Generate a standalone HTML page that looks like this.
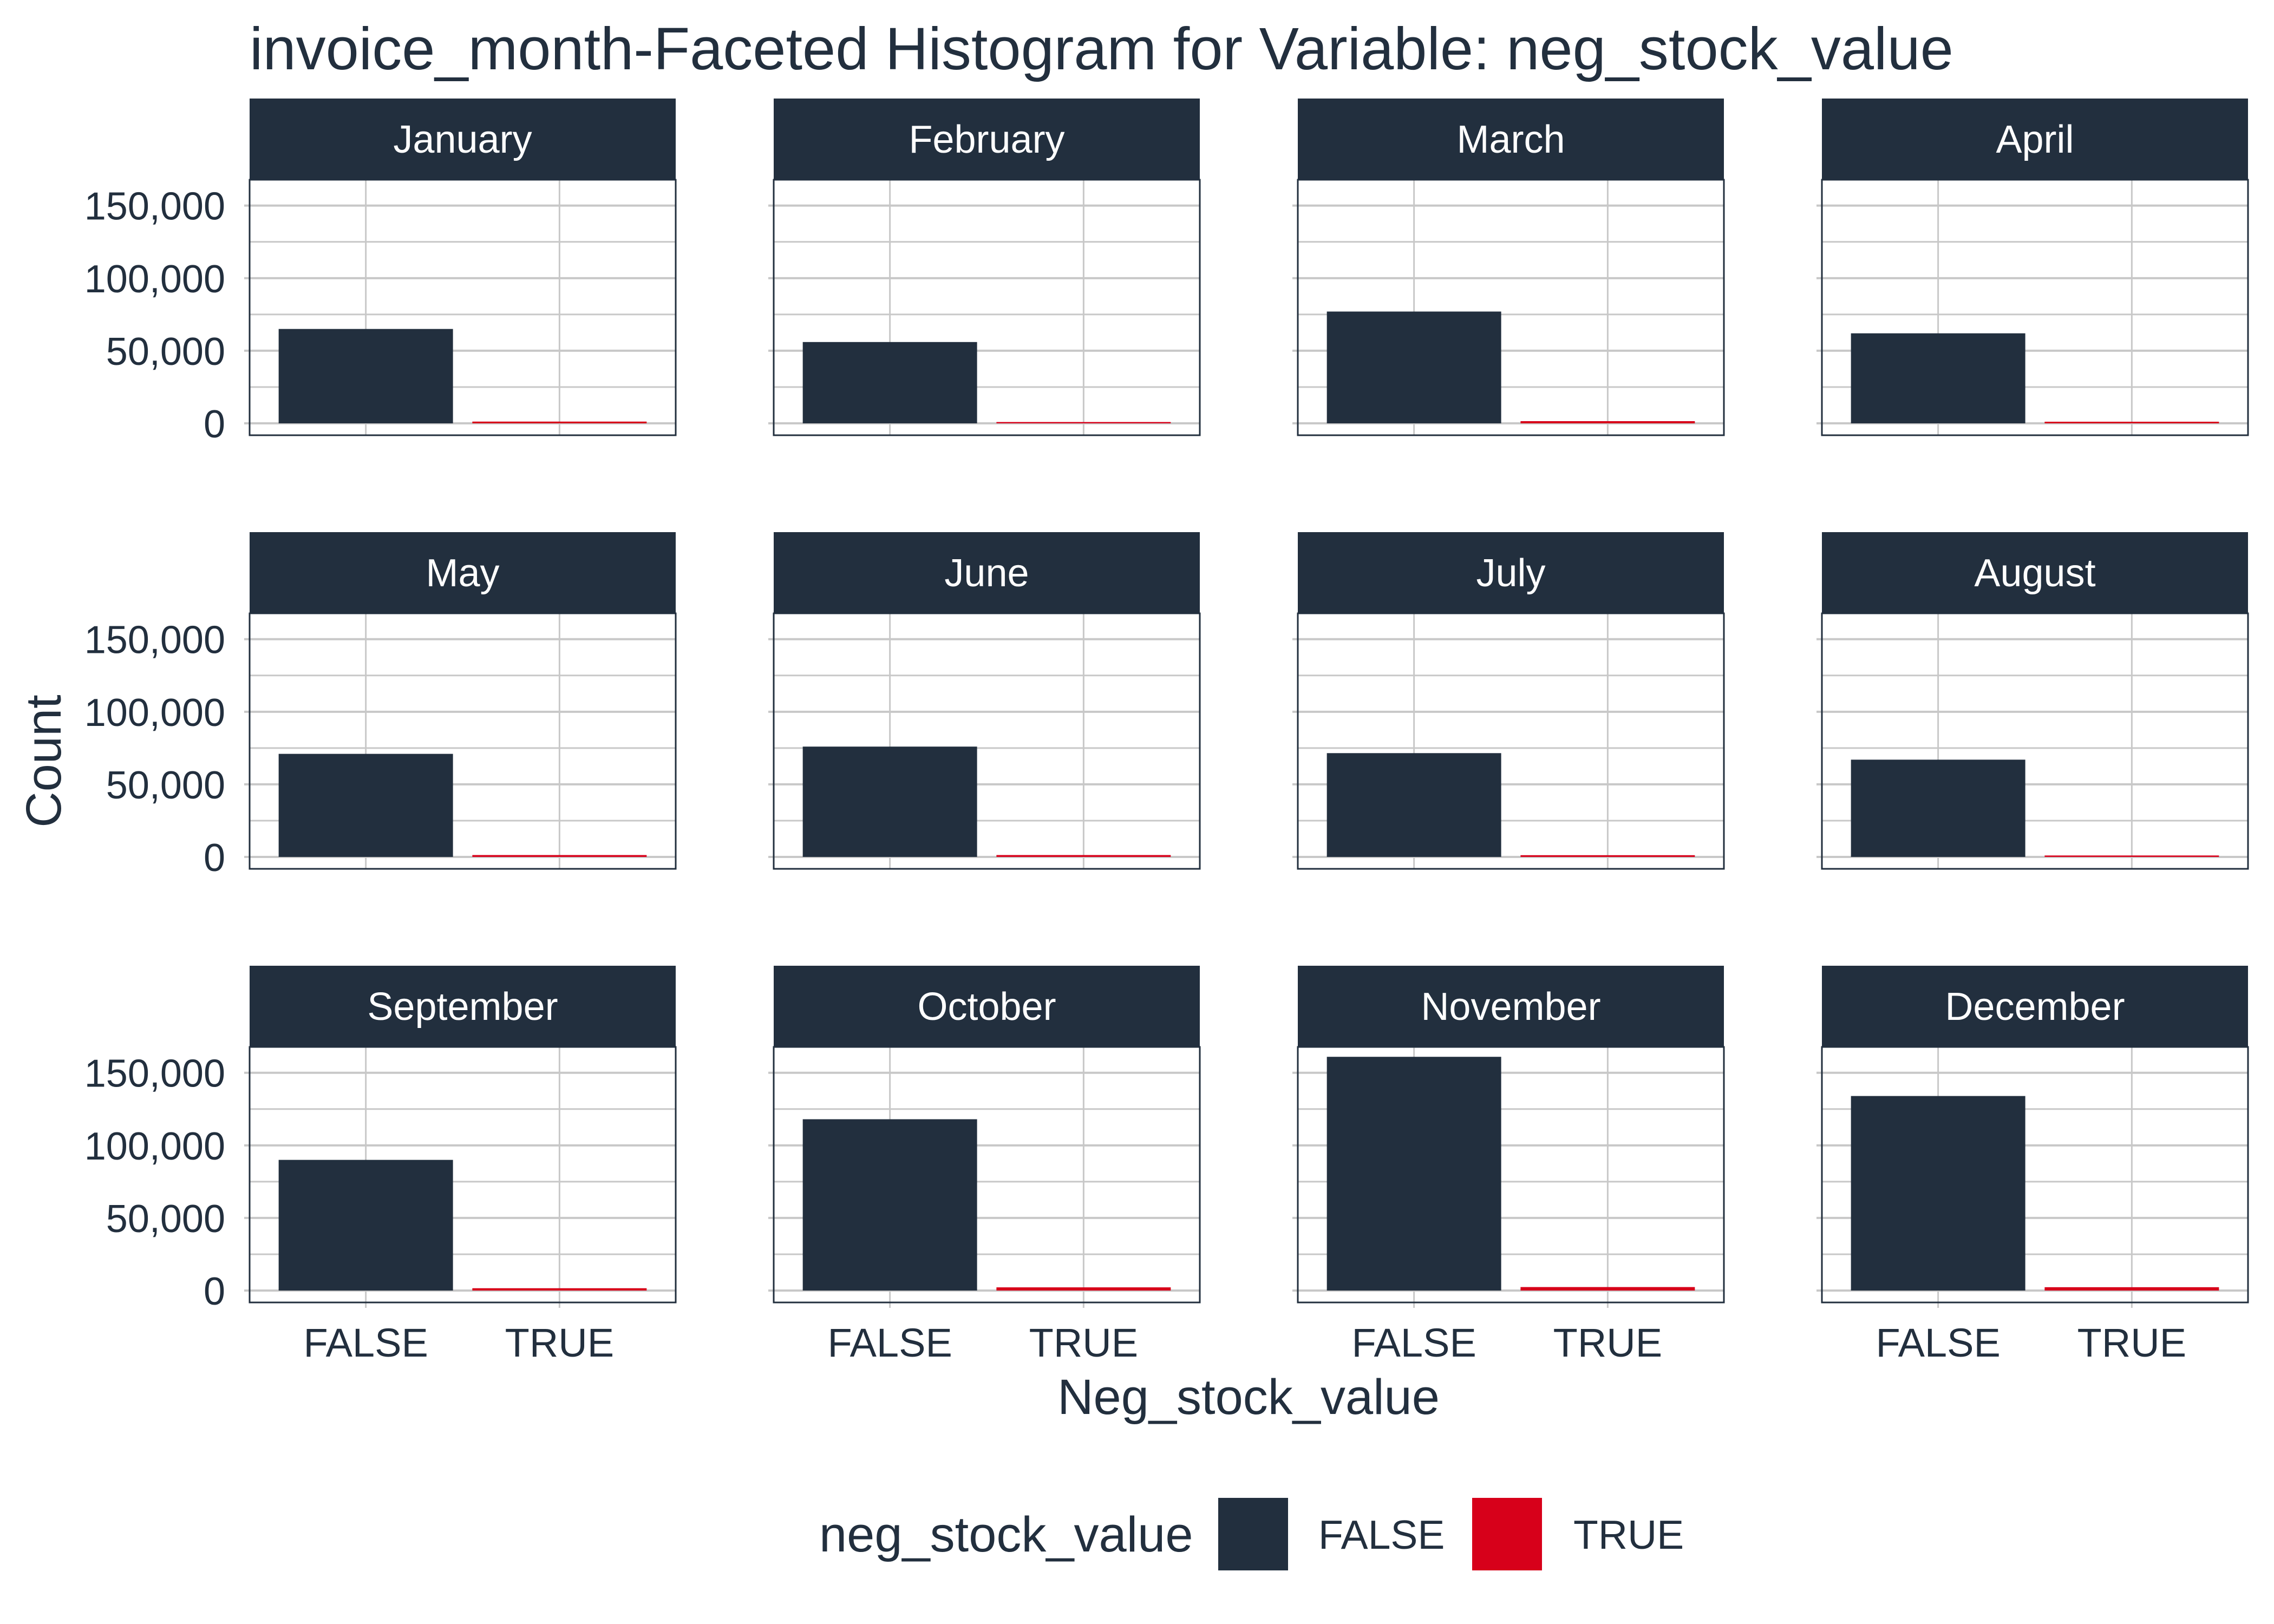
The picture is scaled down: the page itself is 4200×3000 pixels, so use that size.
<!DOCTYPE html>
<html><head><meta charset="utf-8">
<style>
html,body{margin:0;padding:0;background:#fff;}
svg{display:block;font-family:"Liberation Sans",Arial,sans-serif;}
</style></head>
<body>
<svg id="chart" width="4200" height="3000" viewBox="0 0 4200 3000" xmlns="http://www.w3.org/2000/svg">
<rect width="4200" height="3000" fill="#fff"/>
<text x="461" y="128" font-size="110" fill="#222f3e">invoice_month-Faceted Histogram for Variable: neg_stock_value</text>
<text x="0" y="0" font-size="92" fill="#222f3e" text-anchor="middle" transform="translate(112,1406) rotate(-90)">Count</text>
<text x="2306" y="2612" font-size="92" fill="#222f3e" text-anchor="middle">Neg_stock_value</text>
<g>
<text x="1513" y="2866" font-size="92" fill="#222f3e">neg_stock_value</text>
<rect x="2250" y="2767" width="129" height="134" fill="#222f3e"/>
<text x="2435" y="2861" font-size="75" fill="#222f3e">FALSE</text>
<rect x="2719" y="2767" width="129" height="134" fill="#d7001a"/>
<text x="2906" y="2861" font-size="75" fill="#222f3e">TRUE</text>
</g>
<g id="panels"></g>
</svg>
<script>
const months = ["January","February","March","April","May","June","July","August","September","October","November","December"];
const falseCounts = [65000,56000,77000,62000,71000,76000,71500,67000,90000,118000,161000,134000];
const trueCounts = [1200,900,1500,1100,1300,1300,1200,1000,1600,2200,2400,2300];
const categories = ["FALSE","TRUE"];
const yTicks = [0,50000,100000,150000];
const yTickLabels = ["0","50,000","100,000","150,000"];

const NS="http://www.w3.org/2000/svg";
const root=document.getElementById('panels');
const colX0=461, colStep=968, pw=787;
const rowY0=182, rowStep=801, stripH=150, ph=472;
const yMin=-8200, yMax=167800;
const dark="#222f3e", red="#d7001a", grid="#c8c8c8";
function mk(tag,attrs,parent){const e=document.createElementNS(NS,tag);for(const k in attrs)e.setAttribute(k,attrs[k]);parent.appendChild(e);return e;}
months.forEach((m,i)=>{
  const c=i%4, r=Math.floor(i/4);
  const px=colX0+c*colStep, sy=rowY0+r*rowStep, py=sy+stripH;
  const ys=v=>py+ph-(v-yMin)/(yMax-yMin)*ph;
  const xc=k=>px+((k+1)-0.4)/2.2*pw;
  const g=mk('g',{},root);
  
  
  const strip=mk('rect',{x:px,y:sy,width:pw,height:stripH,fill:dark},g);
  
  
  const st=mk('text',{x:px+pw/2,y:sy+stripH/2+25,'font-size':72,fill:'#fff','text-anchor':'middle'},g);
  st.textContent=m;
  
  
  for(let t=25000;t<yMax;t+=50000){
    const l=mk('line',{x1:px,x2:px+pw,y1:ys(t),y2:ys(t),stroke:grid,'stroke-width':3},g);
    
    
  }
  yTicks.forEach((t,j)=>{
    const l=mk('line',{x1:px-10,x2:px+pw,y1:ys(t),y2:ys(t),stroke:grid,'stroke-width':4},g);
    
    
    if(c===0){
      const tl=mk('text',{x:px-45,y:ys(t)+26,'font-size':72,fill:dark,'text-anchor':'end'},g);
      tl.textContent=yTickLabels[j];
      
      
    }
  });
  categories.forEach((cat,k)=>{
    const l=mk('line',{x1:xc(k),x2:xc(k),y1:py,y2:py+ph+(r===2?10:0),stroke:grid,'stroke-width':3},g);
    
    
    if(r===2){
      const tl=mk('text',{x:xc(k),y:py+ph+100,'font-size':74,fill:dark,'text-anchor':'middle'},g);
      tl.textContent=cat;
      
      
    }
  });
  const bw=0.9/2.2*pw;
  const vals=[falseCounts[i],trueCounts[i]];
  vals.forEach((v,k)=>{
    const y1=ys(v), y0=ys(0);
    const b=mk('rect',{x:xc(k)-bw/2,y:y1,width:bw,height:Math.max(y0-y1,1),fill:k===0?dark:red},g);
    
    
  });
  const bd=mk('rect',{x:px,y:py,width:pw,height:ph,fill:'none',stroke:dark,'stroke-width':3},g);
  
  
});
</script>
</body></html>
